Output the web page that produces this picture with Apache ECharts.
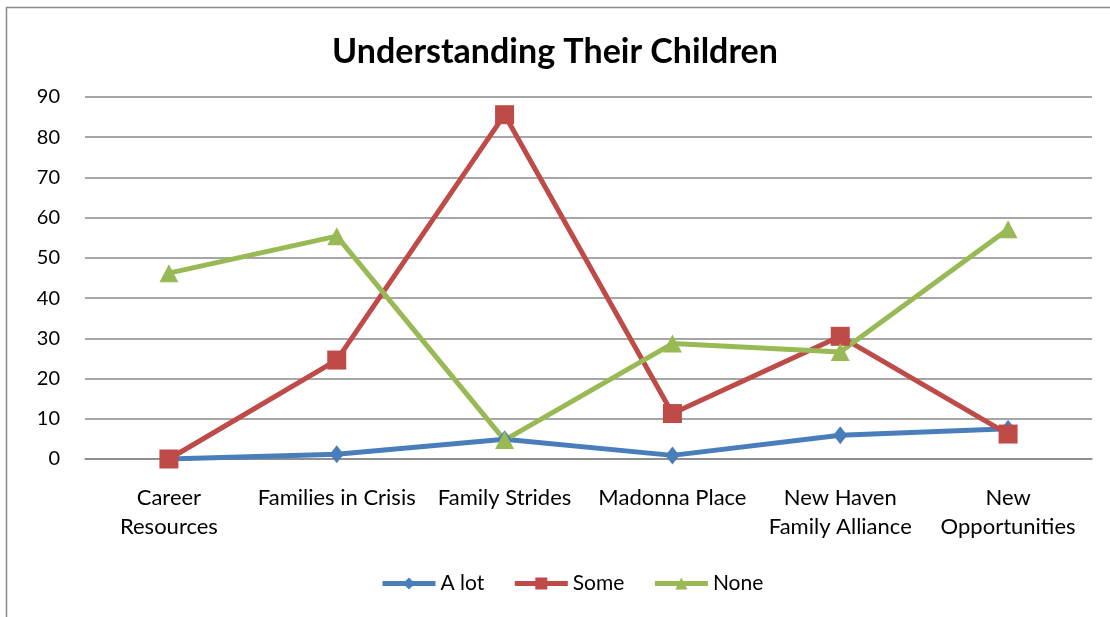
<!DOCTYPE html>
<html>
<head>
<meta charset="utf-8">
<script src="https://cdn.jsdelivr.net/npm/echarts@6/dist/echarts.min.js"></script>
<style>
  html, body { margin: 0; padding: 0; background: #fff; }
  #chart { width: 1110px; height: 617px; }
</style>
</head>
<body>
<div id="chart"></div>
<script>
// Programs surveyed
const categories = [
  'Career\nResources',
  'Families in Crisis',
  'Family Strides',
  'Madonna Place',
  'New Haven\nFamily Alliance',
  'New\nOpportunities'
];

// Share of responses per program
const aLot = [0, 1.2, 4.9, 0.9, 5.9, 7.5];
const some = [0, 24.6, 85.6, 11.3, 30.5, 6.2];
const none = [46.2, 55.4, 4.7, 28.7, 26.6, 57.1];

const yTicks = { min: 0, max: 90, interval: 10 };

const FONT = 'Lato, "Open Sans", sans-serif';

const chart = echarts.init(document.getElementById('chart'), null, { renderer: 'canvas' });

function lineSeries(name, data, color, symbol, size) {
  return {
    name: name,
    type: 'line',
    data: data,
    symbol: symbol,
    symbolSize: size,
    showAllSymbol: true,
    lineStyle: { color: color, width: 5 },
    itemStyle: { color: color, borderWidth: 0 },
    emphasis: { disabled: true },
    animation: false
  };
}

chart.setOption({
  backgroundColor: '#fff',
  title: {
    text: 'Understanding Their Children',
    left: 'center',
    top: 30,
    textStyle: { fontFamily: FONT, fontWeight: 'bold', fontSize: 34, color: '#000' }
  },
  graphic: [{
    type: 'rect',
    shape: { x: 6.5, y: 7.5, width: 1200, height: 700 },
    style: { fill: 'none', stroke: '#8a8a8a', lineWidth: 1.5 },
    silent: true
  }],
  legend: {
    bottom: 18,
    left: 375,
    itemWidth: 53,
    itemHeight: 15,
    itemGap: 28,
    lineStyle: { width: 5 },
    textStyle: { fontFamily: FONT, fontSize: 21, color: '#000' },
    data: ['A lot', 'Some', 'None']
  },
  grid: { left: 85, right: 18, top: 97, bottom: 158 },
  xAxis: {
    type: 'category',
    data: categories,
    boundaryGap: true,
    axisLine: { lineStyle: { color: '#888', width: 1.5 } },
    axisTick: { show: false },
    axisLabel: {
      interval: 0,
      margin: 24,
      lineHeight: 29,
      fontFamily: FONT,
      fontSize: 22,
      color: '#000'
    }
  },
  yAxis: {
    type: 'value',
    min: yTicks.min,
    max: yTicks.max,
    interval: yTicks.interval,
    axisLine: { show: false },
    axisTick: { show: false },
    splitLine: { lineStyle: { color: '#888', width: 1.5 } },
    axisLabel: { margin: 25, fontFamily: FONT, fontSize: 20, color: '#000' }
  },
  series: [
    lineSeries('A lot', aLot, '#4A7EBB', 'diamond', [14, 18]),
    lineSeries('Some', some, '#BE4B48', 'rect', 19),
    lineSeries('None', none, '#98B954', 'triangle', [19, 18])
  ]
});
</script>
</body>
</html>
